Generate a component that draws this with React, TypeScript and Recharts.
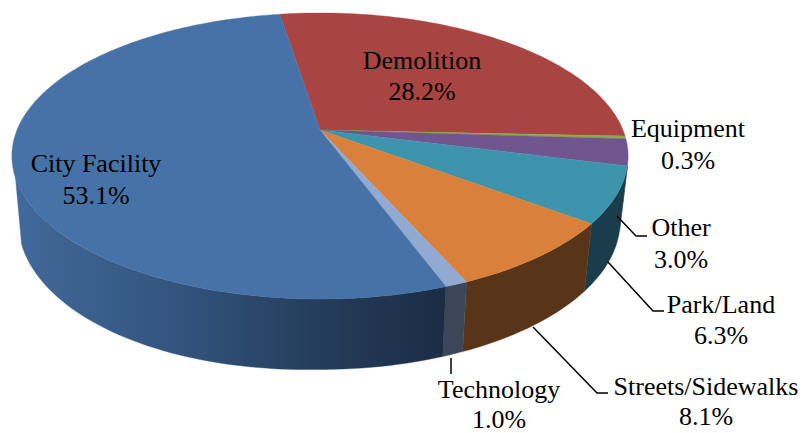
import { Pie, PieChart } from "recharts";

const categories = ["Demolition", "Equipment", "Other", "Park/Land", "Streets/Sidewalks", "Technology", "City Facility"];
const shares = [28.2, 0.3, 3.0, 6.3, 8.1, 1.0, 53.1];
const topColors = ["#A84542", "#8BAB45", "#71558F", "#3F94AD", "#D9813A", "#92A9D2", "#4672A8"];
const wallColors = ["#6B2B2A", "#58702B", "#47345C", "#1A3D4B", "#583519", "#3C4659", "url(#cityWall)"];

const topSlices = categories.map((name, i) => ({ name, value: shares[i], fill: topColors[i] }));
const wallSlices = categories.map((name, i) => ({ name, value: shares[i], fill: wallColors[i] }));

// text placement: centre x, first and second baseline, optional leader polyline
const labelLayout: Record<string, { x: number; y1: number; y2: number; leader?: string }> = {
  Demolition: { x: 422, y1: 69, y2: 100 },
  Equipment: { x: 688, y1: 137, y2: 169 },
  Other: { x: 681, y1: 236, y2: 268, leader: "617,216 636,236 647,236" },
  "Park/Land": { x: 721, y1: 313, y2: 344, leader: "608,262 653,311 664,311" },
  "Streets/Sidewalks": { x: 706, y1: 395, y2: 425, leader: "533,327 597,393 608,393" },
  Technology: { x: 499, y1: 398, y2: 428, leader: "451,358 451,374" },
  "City Facility": { x: 96, y1: 172, y2: 204 },
};

// the pie sits in perspective: unit circle -> screen
const APEX_X = 320;
const APEX_Y = 130;
const SCALE_X = 303;
const SCALE_Y = 138.3;
const TILT = 0.182;
const WALL_FROM = 104.3;
const WALL_TO = 251;

function project(theta: number) {
  const rad = (theta * Math.PI) / 180;
  const w = 1 + TILT * Math.cos(rad);
  return { x: APEX_X + (SCALE_X * Math.sin(rad)) / w, y: APEX_Y - (SCALE_Y * Math.cos(rad)) / w };
}

// bottom rim of the wall, a little narrower and deeper towards the viewer
function lower(p: { x: number; y: number }) {
  const front = Math.max(0, (p.y - 158) / 130);
  const left = Math.max(0, (APEX_X - p.x) / 220);
  const pull = p.x < APEX_X ? 0.02 : 0.026;
  return { x: p.x - (p.x - APEX_X) * pull, y: p.y + 65 + 5 * front + 4 * left * front };
}

function arc(from: number, to: number) {
  const pts = [];
  const steps = Math.max(1, Math.ceil((to - from) / 1.5));
  for (let i = 0; i <= steps; i++) pts.push(project(from + ((to - from) * i) / steps));
  return pts;
}

const toPath = (pts: { x: number; y: number }[]) =>
  pts.map((p, i) => `${i ? "L" : "M"}${p.x.toFixed(1)} ${p.y.toFixed(1)}`).join(" ") + " Z";

function TopFace(props: any) {
  const pts = [{ x: APEX_X, y: APEX_Y }, ...arc(90 - props.startAngle, 90 - props.endAngle)];
  return <path d={toPath(pts)} fill={props.fill} stroke={props.fill} strokeWidth={0.4} />;
}

function WallFace(props: any) {
  const from = Math.max(90 - props.startAngle, WALL_FROM);
  const to = Math.min(90 - props.endAngle, WALL_TO);
  if (to <= from) return null;
  const upper = arc(from, to);
  const pts = [...upper, ...upper.map(lower).reverse()];
  return <path d={toPath(pts)} fill={props.fill} stroke={props.fill} strokeWidth={0.4} />;
}

function SliceLabel(props: any) {
  const name = categories[props.index];
  const spot = labelLayout[name];
  const font = { fontFamily: "Liberation Serif", fontSize: 26, fill: "#000", textAnchor: "middle" as const };
  return (
    <g>
      {spot.leader && <polyline points={spot.leader} fill="none" stroke="#000" strokeWidth={1.5} />}
      <text x={spot.x} y={spot.y1} {...font}>{name}</text>
      <text x={spot.x} y={spot.y2} {...font}>{shares[props.index].toFixed(1)}%</text>
    </g>
  );
}

export default function App() {
  return (
    <div style={{ position: "absolute", left: 0, top: 0, width: 804, height: 433, background: "#fff" }}>
      <PieChart width={804} height={433} margin={{ top: 0, right: 0, bottom: 0, left: 0 }}>
        <defs>
          <linearGradient id="cityWall" gradientUnits="userSpaceOnUse" x1="15" y1="0" x2="445" y2="0">
            <stop offset="0" stopColor="#41699A" />
            <stop offset="0.35" stopColor="#335680" />
            <stop offset="0.7" stopColor="#253D5C" />
            <stop offset="1" stopColor="#1B2C45" />
          </linearGradient>
        </defs>
        <Pie
          data={wallSlices}
          dataKey="value"
          cx={APEX_X}
          cy={APEX_Y}
          outerRadius={150}
          startAngle={99}
          endAngle={-261}
          stroke="none"
          shape={WallFace}
          labelLine={false}
          isAnimationActive={false}
        />
        <Pie
          data={topSlices}
          dataKey="value"
          cx={APEX_X}
          cy={APEX_Y}
          outerRadius={150}
          startAngle={99}
          endAngle={-261}
          stroke="none"
          shape={TopFace}
          label={SliceLabel}
          labelLine={false}
          isAnimationActive={false}
        />
      </PieChart>
    </div>
  );
}
